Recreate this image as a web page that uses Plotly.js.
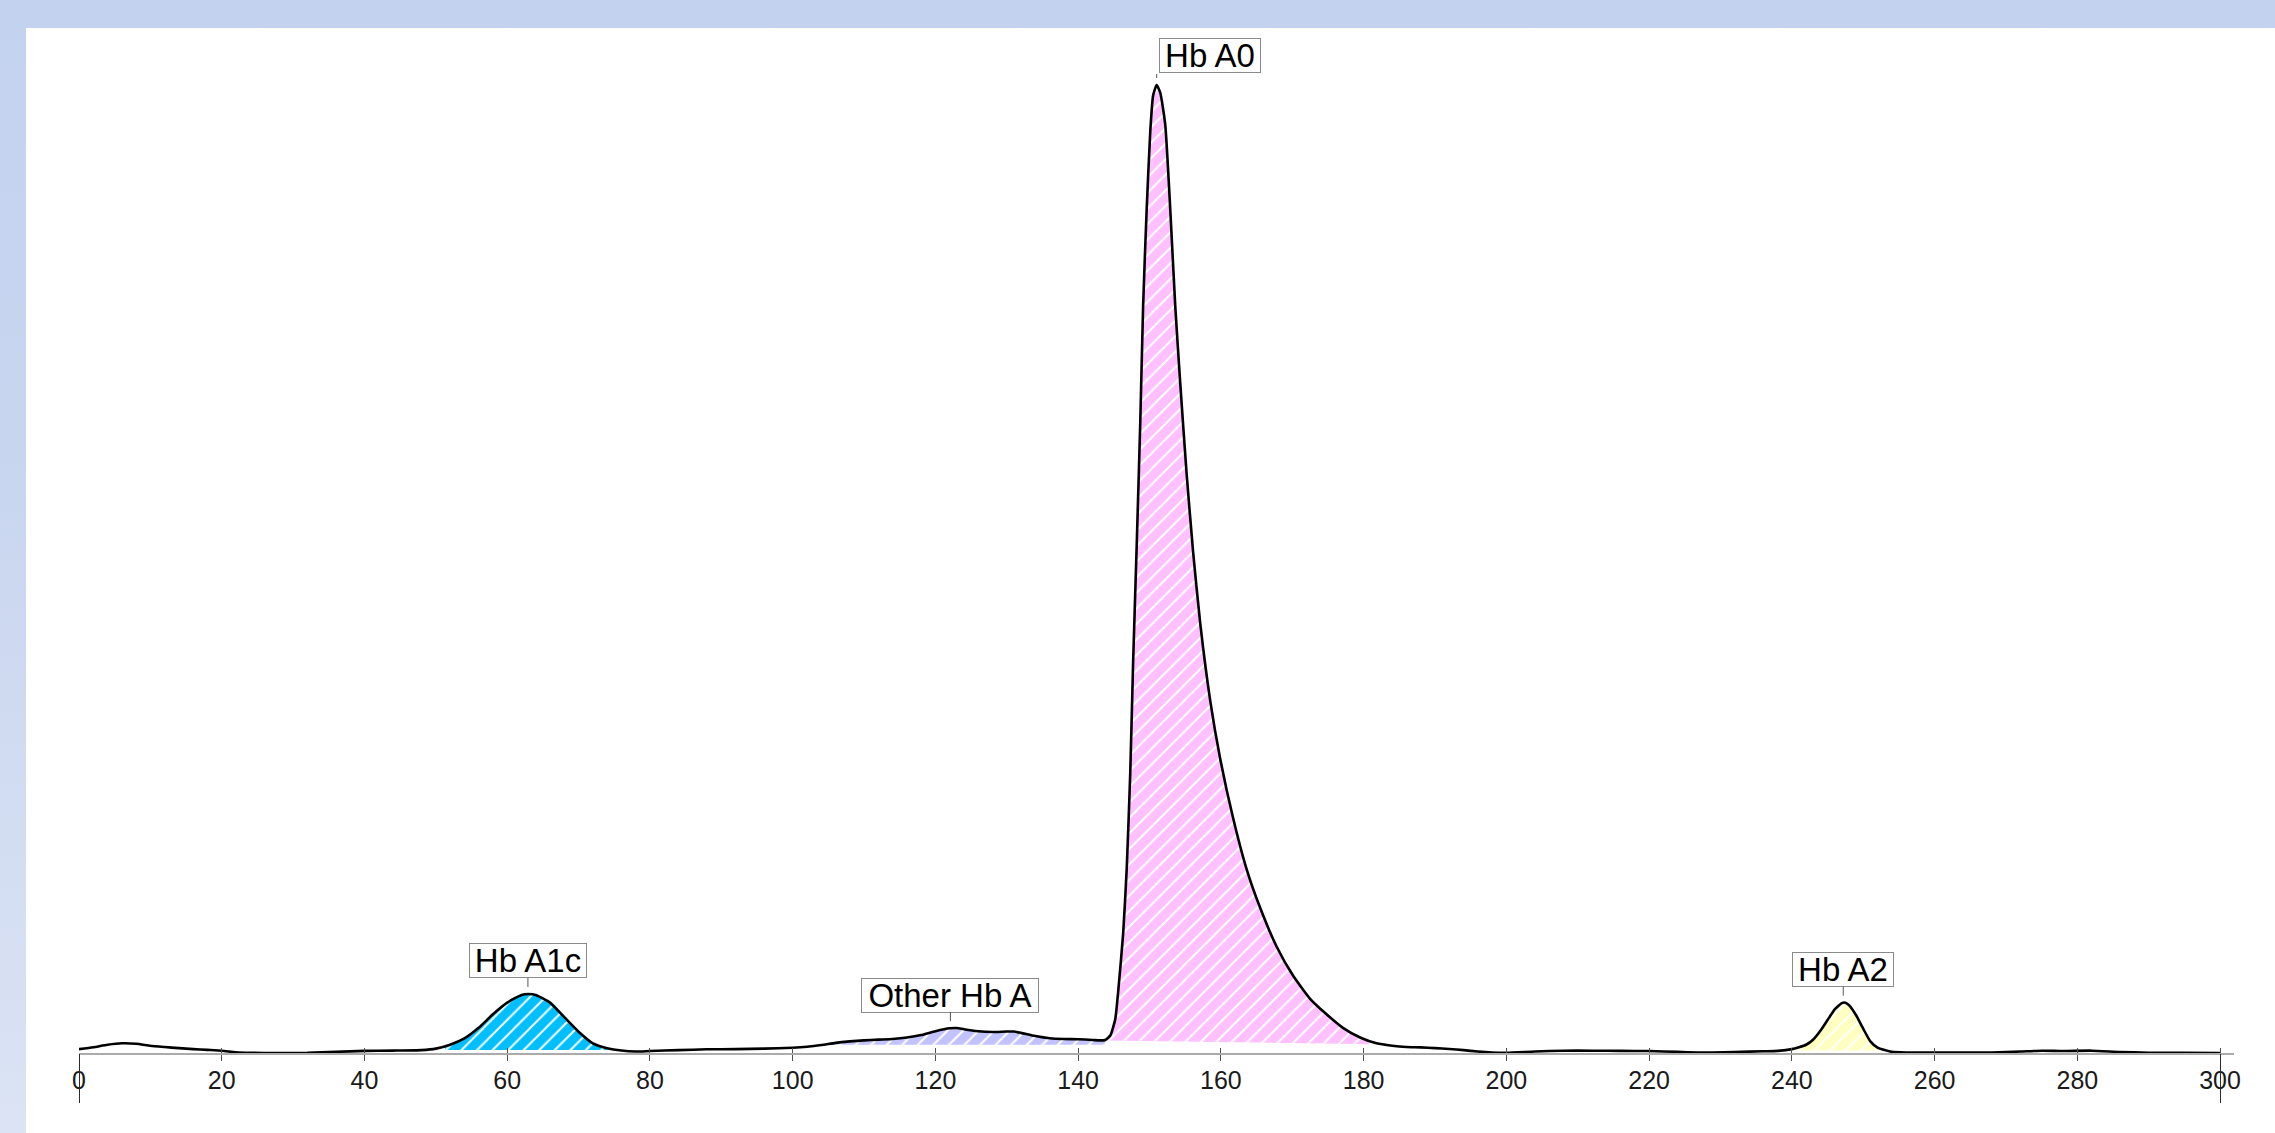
<!DOCTYPE html>
<html>
<head>
<meta charset="utf-8">
<script src="https://cdn.plot.ly/plotly-3.0.1.min.js"></script>
<style>
  html, body { margin: 0; padding: 0; }
  body {
    width: 2275px; height: 1133px; overflow: hidden; position: relative;
    background: linear-gradient(to bottom, #C3D2EE 0%, #C8D5EF 40%, #DBE3F4 100%);
  }
  #chart { position: absolute; left: 26px; top: 28px; width: 2249px; height: 1105px; background: #fff; }
</style>
</head>
<body>
<div id="chart"></div>
<script>
// ---- Data ----
const retentionTime = [
  0, 2, 4, 6, 8, 10, 12, 14, 16, 18, 20, 22, 24, 28, 32, 36, 40, 44, 48,
  50, 52, 54, 56, 58, 60, 62, 63, 64, 66, 68, 70, 72, 74, 76, 78, 80, 84, 88, 92, 96,
  100, 102, 104, 106, 108, 110, 112, 114, 116, 118, 120, 122, 123, 124, 126, 128, 130, 131, 132,
  134, 136, 138, 140, 142, 143, 143.8, 144.5, 145.2, 145.6, 146.3, 146.8, 147.3, 147.7, 148.2,
  148.7, 149.1, 149.6, 150.1, 150.5, 151.0, 151.5, 152.2, 152.9, 153.6, 154.3, 155.2, 156.1,
  157.1, 158.5, 159.9, 161.7, 163.6, 165.5, 167.8, 170.1, 172.5, 174.8, 177.1, 179.5, 181.8,
  184, 186, 188, 190, 192, 194, 196, 198, 200, 204, 208, 212, 216, 220, 224, 228, 232, 236,
  238, 240, 241, 242, 243, 244, 245, 246, 247, 247.5, 248, 249, 250, 251, 252, 253, 254, 256,
  260, 264, 268, 272, 275, 278, 282, 286, 290, 295, 300
];
const signal = [
  0.4, 0.6, 0.85, 1.0, 0.95, 0.75, 0.62, 0.5, 0.4, 0.32, 0.24, 0.08, 0.02, 0.0, 0.02, 0.12, 0.22, 0.25, 0.3,
  0.45, 0.85, 1.5, 2.6, 4.0, 5.2, 6.0, 6.1, 6.0, 5.2, 3.7, 2.2, 1.0, 0.5, 0.25, 0.15, 0.2, 0.3, 0.38, 0.4, 0.45,
  0.55, 0.65, 0.82, 1.05, 1.2, 1.3, 1.38, 1.45, 1.6, 1.85, 2.25, 2.55, 2.58, 2.45, 2.25, 2.17, 2.22, 2.22, 2.08,
  1.75, 1.52, 1.44, 1.42, 1.35, 1.3, 1.35, 1.8, 3.5, 6.3, 12.3, 19.0, 29.0, 40.4, 52.4,
  65.1, 77.2, 87.2, 95.2, 98.9, 100, 99.2, 95.9, 87.2, 77.2, 69.2, 59.8, 51.8,
  44.4, 36.4, 30.4, 24.3, 19.0, 15.0, 11.0, 8.0, 5.6, 4.0, 2.6, 1.6, 1.0,
  0.75, 0.62, 0.58, 0.5, 0.42, 0.3, 0.15, 0.05, 0.02, 0.15, 0.24, 0.24, 0.22, 0.2, 0.12, 0.05, 0.1, 0.18,
  0.22, 0.4, 0.6, 0.85, 1.4, 2.3, 3.4, 4.5, 5.15, 5.2, 4.95, 3.9, 2.5, 1.2, 0.55, 0.3, 0.12, 0.05,
  0.05, 0.05, 0.05, 0.15, 0.24, 0.2, 0.24, 0.1, 0.03, 0.02, 0.0
];

const peakNames   = ['Hb A1c', 'Other Hb A', 'Hb A0', 'Hb A2'];
const peakApexX   = [62.9, 122.1, 151.0, 247.2];
const peakApexY   = [6.1, 2.56, 100, 5.2];
const fillStart   = [51.3, 104.5, 143.8, 240.5];
const fillEnd     = [75.2, 143.8, 180.8, 252.2];
const baseStart   = [0.3, 0.85, 1.3, 0.25];
const baseEnd     = [0.3, 0.85, 0.9, 0.25];
const peakColors  = ['#00BFFF', '#C2C2FF', '#FFC0FF', '#FFFFC2'];
const tickValues  = [0, 20, 40, 60, 80, 100, 120, 140, 160, 180, 200, 220, 240, 260, 280, 300];
const endTicks    = [0, 300];

// ---- helpers ----
function interp(x) {
  for (let i = 0; i < retentionTime.length - 1; i++) {
    const a = retentionTime[i], b = retentionTime[i + 1];
    if (x >= a && x <= b) {
      const t = (x - a) / (b - a);
      return signal[i] + t * (signal[i + 1] - signal[i]);
    }
  }
  return 0;
}

const traces = [];
peakNames.forEach((name, k) => {
  const xs = [fillStart[k]], ys = [interp(fillStart[k])];
  retentionTime.forEach((x, i) => {
    if (x > fillStart[k] && x < fillEnd[k]) { xs.push(x); ys.push(signal[i]); }
  });
  xs.push(fillEnd[k]); ys.push(interp(fillEnd[k]));
  xs.push(fillEnd[k]); ys.push(baseEnd[k]);
  xs.push(fillStart[k]); ys.push(baseStart[k]);
  traces.push({
    type: 'scatter', mode: 'lines', x: xs, y: ys, name: name,
    fill: 'toself', line: { width: 0, color: peakColors[k] },
    fillcolor: peakColors[k],
    fillpattern: { shape: '/', bgcolor: peakColors[k], fgcolor: '#ffffff', fgopacity: 1, size: 11, solidity: 0.18 },
    hoverinfo: 'skip', showlegend: false
  });
});

traces.push({
  type: 'scatter', mode: 'lines', x: retentionTime, y: signal,
  line: { color: '#000000', width: 2.6, shape: 'spline', smoothing: 0.5 },
  hoverinfo: 'skip', showlegend: false
});

// empty traces so the overlaid tick axes are drawn
traces.push({ type: 'scatter', mode: 'lines', x: [null], y: [null], xaxis: 'x2', yaxis: 'y', hoverinfo: 'skip', showlegend: false });
traces.push({ type: 'scatter', mode: 'lines', x: [null], y: [null], xaxis: 'x3', yaxis: 'y', hoverinfo: 'skip', showlegend: false });

const labelFont = { family: 'Liberation Sans, Arial, sans-serif', size: 33, color: '#000000' };
const boxWidths = [116, 176, 100, 100];
const annotations = peakNames.map((name, k) => {
  if (name === 'Hb A0') {
    return {
      x: peakApexX[k], y: peakApexY[k], xref: 'x', yref: 'y', text: name, showarrow: false,
      xanchor: 'left', yanchor: 'bottom', xshift: 2, yshift: 12,
      font: labelFont, bgcolor: '#ffffff', bordercolor: '#8a8a8a', borderwidth: 1, borderpad: 0,
      width: boxWidths[k], height: 33
    };
  }
  return {
    x: peakApexX[k], y: peakApexY[k], xref: 'x', yref: 'y', text: name,
    showarrow: true, arrowhead: 0, arrowwidth: 1, arrowcolor: '#555555',
    ax: 0, ay: -33, standoff: 7,
    font: labelFont, bgcolor: '#ffffff', bordercolor: '#8a8a8a', borderwidth: 1, borderpad: 0,
    width: boxWidths[k], height: 33
  };
});

const a0 = peakNames.indexOf('Hb A0');
const shapes = [{
  type: 'line', xref: 'x', yref: 'y', ysizemode: 'pixel', yanchor: peakApexY[a0],
  x0: peakApexX[a0], x1: peakApexX[a0], y0: 7, y1: 11,
  line: { color: '#555555', width: 1 }
}];

const xRange = [0, 301.95];
const layout = {
  width: 2249, height: 1105,
  margin: { l: 53, r: 41, t: 20, b: 80 },
  paper_bgcolor: '#ffffff', plot_bgcolor: '#ffffff',
  showlegend: false,
  xaxis: {
    range: xRange, showgrid: false, zeroline: false,
    showline: true, linecolor: '#ababab', linewidth: 2,
    tickmode: 'array', tickvals: tickValues, ticktext: tickValues.map(String),
    ticks: 'outside', ticklen: 6, tickwidth: 1, tickcolor: '#505050',
    tickfont: { family: 'Liberation Sans, Arial, sans-serif', size: 25, color: '#1a1a1a' },
    ticklabelstandoff: -2
  },
  xaxis2: {
    overlaying: 'x', anchor: 'y', side: 'bottom', range: xRange,
    showgrid: false, zeroline: false, showline: false, showticklabels: false,
    tickmode: 'array', tickvals: tickValues,
    ticks: 'inside', ticklen: 5, tickwidth: 1, tickcolor: '#505050'
  },
  xaxis3: {
    overlaying: 'x', anchor: 'y', side: 'bottom', range: xRange,
    showgrid: false, zeroline: false, showline: false, showticklabels: false,
    tickmode: 'array', tickvals: endTicks,
    ticks: 'outside', ticklen: 49, tickwidth: 1, tickcolor: '#2a2a2a'
  },
  yaxis: { range: [0, 103.82], visible: false, showgrid: false, zeroline: false },
  annotations: annotations,
  shapes: shapes
};

Plotly.newPlot('chart', traces, layout, { displayModeBar: false, staticPlot: true });
</script>
</body>
</html>
